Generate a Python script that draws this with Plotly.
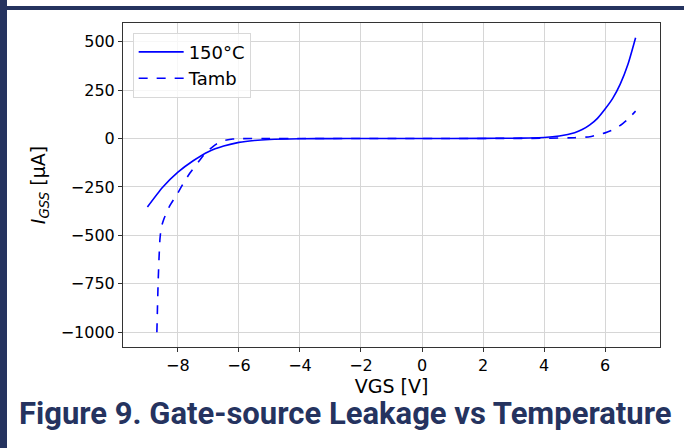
import plotly.graph_objects as go

# 150°C curve
vgs_hot = [-9, -8.5, -8, -7.5, -7, -6.5, -6, -5.5, -5, -4, -3, -2, 0,
           2, 3, 3.5, 4, 4.5, 5, 5.25, 5.5, 5.75, 6, 6.25, 6.5, 6.75, 7]
igss_hot = [-354, -252, -174, -115, -68, -39, -20, -10, -5, -1.5, -0.5, 0, 0,
            0.5, 1.5, 2.5, 5, 13, 30, 46, 70, 104, 152, 207, 282, 383, 520]

# ambient curve
vgs_amb = [-8.69, -8.67, -8.65, -8.62, -8.59, -8.56, -8.52, -8.46, -8.38, -8.26, -8.1, -8,
           -7.8, -7.6, -7.3, -7.07, -6.75, -6.5, -6.2, -6, -5, -4, 0, 4, 5, 5.5, 6, 6.25,
           6.5, 6.75, 7]
igss_amb = [-1000, -870, -750, -620, -520, -475, -445, -415, -385, -345, -305, -281,
            -225, -177, -115, -70, -30, -11, -3, -1, 0, 0, 0, 1, 4, 9, 29, 45,
            68, 100, 141]

x_ticks = [-8, -6, -4, -2, 0, 2, 4, 6]
y_ticks = [500, 250, 0, -250, -500, -750, -1000]

navy = "#25335f"
tick_font = dict(family="DejaVu Sans", size=16, color="#000000")
label_font = dict(family="DejaVu Sans", size=19, color="#000000")

fig = go.Figure()
fig.add_trace(go.Scatter(x=vgs_hot, y=igss_hot, mode="lines", name="150°C",
                         line=dict(color="#0000ff", width=1.6, shape="spline", smoothing=0.6)))
fig.add_trace(go.Scatter(x=vgs_amb, y=igss_amb, mode="lines", name="Tamb",
                         line=dict(color="#0000ff", width=1.6, dash="dash",
                                   shape="spline", smoothing=0.4)))

axis_common = dict(showline=True, linecolor="#333333", linewidth=1, mirror=True,
                   ticks="outside", ticklen=4, tickcolor="#333333",
                   showgrid=True, gridcolor="#d6d6d6", gridwidth=1,
                   zeroline=False, tickfont=tick_font)

fig.update_xaxes(range=[-9.8, 7.8], tickvals=x_ticks,
                 ticktext=[str(v).replace("-", "\u2212") for v in x_ticks],
                 title=dict(text="VGS [V]", font=label_font, standoff=4), **axis_common)
fig.update_yaxes(range=[-1076, 596], tickvals=y_ticks,
                 ticktext=[str(v).replace("-", "\u2212") for v in y_ticks],
                 title=dict(text="<i>I<sub>GSS</sub></i> [µA]", font=label_font, standoff=10),
                 **axis_common)

# page frame: navy bar on the left and along the top
pw, ph = 684 - 123 - 24, 347 - 23
fig.add_shape(type="rect", xref="paper", yref="paper", layer="above",
              x0=(0 - 123) / pw, x1=(7 - 123) / pw, y0=(347 - 448) / ph, y1=(347 - 0) / ph,
              fillcolor=navy, line_width=0)
fig.add_shape(type="rect", xref="paper", yref="paper", layer="above",
              x0=(0 - 123) / pw, x1=(684 - 123) / pw, y0=(347 - 10) / ph, y1=(347 - 6) / ph,
              fillcolor=navy, line_width=0)

fig.add_annotation(text="<b>Figure 9. Gate-source Leakage vs Temperature</b>",
                   xref="paper", yref="paper", x=(345 - 123) / pw, y=(347 - 413) / ph,
                   xanchor="center", yanchor="middle", showarrow=False,
                   font=dict(family="Roboto", size=31, color=navy))

fig.update_layout(
    width=684, height=448,
    margin=dict(l=123, r=24, t=23, b=101),
    paper_bgcolor="white", plot_bgcolor="white",
    showlegend=True,
    legend=dict(x=0.018, y=0.97, xanchor="left", yanchor="top", itemwidth=45,
                bgcolor="rgba(255,255,255,0.8)", bordercolor="#d8d8d8", borderwidth=1,
                font=dict(family="DejaVu Sans", size=18, color="#000000")),
)

fig.write_html("out.html", config={"displayModeBar": False},
               post_script="document.body.style.margin='0px';")
